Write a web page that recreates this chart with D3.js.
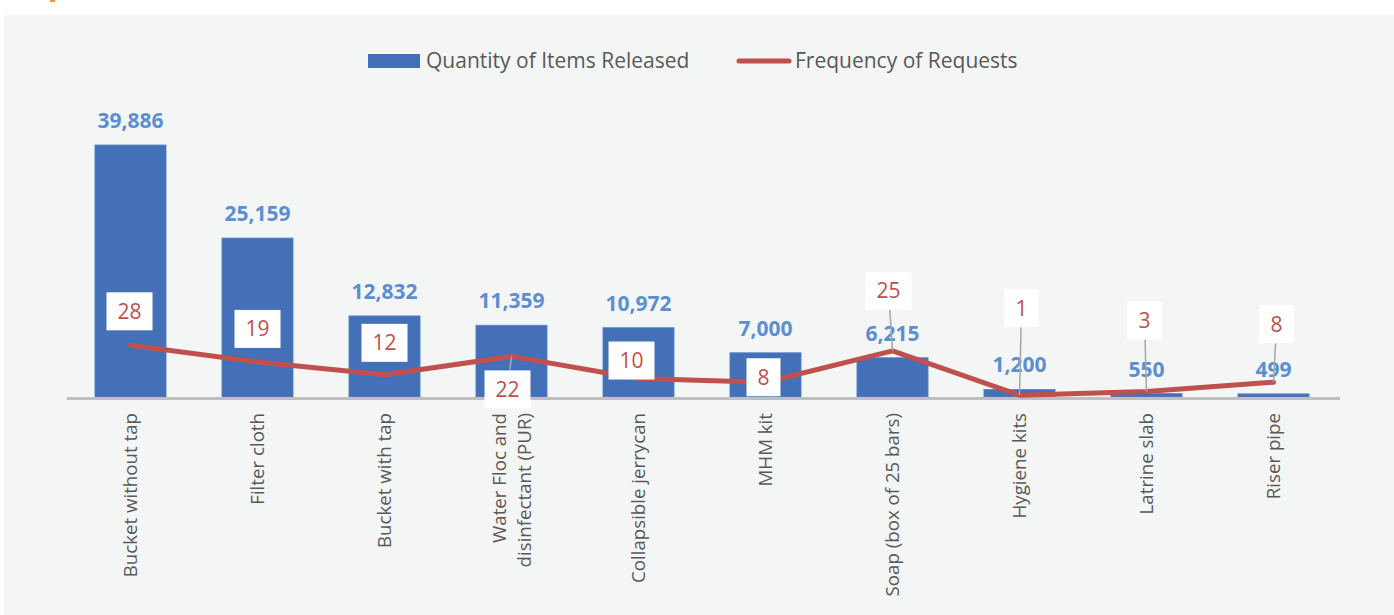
<!DOCTYPE html>
<html>
<head>
<meta charset="utf-8">
<script src="https://cdn.jsdelivr.net/npm/d3@7"></script>
<style>
	body { margin: 0; background: #fff; }
	svg { display: block; }
</style>
</head>
<body>
<svg id="chart" width="1394" height="615"></svg>
<script>

// Data

var categories = ["Bucket without tap", "Filter cloth", "Bucket with tap", "Water Floc and|disinfectant (PUR)",
	"Collapsible jerrycan", "MHM kit", "Soap (box of 25 bars)", "Hygiene kits", "Latrine slab", "Riser pipe"];

var quantities = [39886, 25159, 12832, 11359, 10972, 7000, 6215, 1200, 550, 499];

var frequencies = [28, 19, 12, 22, 10, 8, 25, 1, 3, 8];

var seriesNames = ["Quantity of Items Released", "Frequency of Requests"];

// label box placement relative to each line point (layout only)
var freqLabelOffsets = [[-1, -34], [0, -33], [0, -32], [-4, 33], [-7, -18], [-2, -5], [-4, -60], [2, -87], [-2, -71], [3, -58]];
var freqLeaders = [false, false, false, true, false, false, true, true, true, true];

var BLUE = "#4470b8", LABEL_BLUE = "#5b8fd2", RED = "#c0504d", GREY_TEXT = "#595959";

var svg = d3.select("#chart");

svg.append("rect")
	.attr("x", 50).attr("y", 0)
	.attr("width", 5).attr("height", 2)
	.attr("fill", "#f79646");

svg.append("rect")
	.attr("x", 4).attr("y", 15)
	.attr("width", 1390).attr("height", 600)
	.attr("fill", "#f4f6f5");

var baseline = 397;

var x = d3.scaleBand()
	.domain(d3.range(categories.length))
	.range([67, 1337])
	.paddingInner(0.44)
	.paddingOuter(0.22);

var y = d3.scaleLinear().domain([0, 45000]).range([baseline, 112.7]);
var y2 = d3.scaleLinear().domain([0, 154]).range([baseline, 112.7]);

// Bars

svg.append("g").selectAll("rect")
	.data(quantities)
	.enter().append("rect")
	.attr("x", function (d, i) { return x(i); })
	.attr("y", function (d) { return y(d); })
	.attr("width", x.bandwidth())
	.attr("height", function (d) { return baseline - y(d); })
	.attr("fill", BLUE)
	.attr("stroke", "#5b85c8")
	.attr("stroke-width", 0.8);

// axis line
var axis = svg.append("g")
	.attr("transform", "translate(0," + (baseline + 1.5) + ")")
	.call(d3.axisBottom(x).tickSize(0).tickFormat(""));
axis.select(".domain").attr("stroke", "#bfbfbf").attr("stroke-width", 3).attr("d", "M67,0H1340");

// Bar values

svg.append("g").selectAll("text")
	.data(quantities)
	.enter().append("text")
	.attr("x", function (d, i) { return x(i) + x.bandwidth() / 2; })
	.attr("y", function (d) { return y(d) - 17; })
	.attr("text-anchor", "middle")
	.attr("fill", LABEL_BLUE)
	.style("font-family", "Open Sans")
	.style("font-weight", "bold")
	.style("font-size", "21px")
	.text(function (d) { return d3.format(",")(d); });

// Category labels

var cat = svg.append("g").selectAll("text")
	.data(categories)
	.enter().append("text")
	.attr("transform", function (d, i) {
		var lines = d.split("|").length;
		var cx = x(i) + x.bandwidth() / 2 - (lines - 1) * 12.5;
		return "translate(" + cx + ",413) rotate(-90)";
	})
	.attr("text-anchor", "end")
	.attr("fill", GREY_TEXT)
	.style("font-family", "Open Sans")
	.style("font-size", "18.7px");

cat.each(function (d) {
	var t = d3.select(this);
	d.split("|").forEach(function (line, k) {
		t.append("tspan")
			.attr("x", 0)
			.attr("dy", k == 0 ? "0.35em" : 25)
			.text(line);
	});
});

// Frequency line

var pts = frequencies.map(function (d, i) {
	return [x(i) + x.bandwidth() / 2, y2(d)];
});

svg.append("path")
	.datum(pts)
	.attr("fill", "none")
	.attr("stroke", RED)
	.attr("stroke-width", 5)
	.attr("stroke-linejoin", "round")
	.attr("stroke-linecap", "round")
	.attr("d", d3.line());

// Frequency labels

var fl = svg.append("g").selectAll("g")
	.data(frequencies)
	.enter().append("g")
	.attr("transform", function (d, i) {
		return "translate(" + (pts[i][0] + freqLabelOffsets[i][0]) + "," + (pts[i][1] + freqLabelOffsets[i][1]) + ")";
	});

fl.each(function (d, i) {
	if (!freqLeaders[i]) return;
	var dx = -freqLabelOffsets[i][0], dy = -freqLabelOffsets[i][1];
	var edge = dy > 0 ? 19 : -19;
	d3.select(this).append("line")
		.attr("x1", dx * (edge / dy)).attr("y1", edge)
		.attr("x2", dx).attr("y2", dy)
		.attr("stroke", "#a6a6a6")
		.attr("stroke-width", 1.5);
});

fl.append("rect")
	.attr("x", function (d) { return String(d).length > 1 ? -23 : -17; })
	.attr("y", -19)
	.attr("width", function (d) { return String(d).length > 1 ? 46 : 34; })
	.attr("height", 38)
	.attr("fill", "#fff");

fl.append("text")
	.attr("text-anchor", "middle")
	.attr("dy", "0.36em")
	.attr("fill", RED)
	.style("font-family", "Open Sans")
	.style("font-size", "21px")
	.text(function (d) { return d; });

// Legend

var legend = svg.append("g").style("font-family", "Open Sans").style("font-size", "21px").attr("fill", GREY_TEXT);

legend.append("rect")
	.attr("x", 368).attr("y", 54)
	.attr("width", 52).attr("height", 14)
	.attr("fill", BLUE);

legend.append("text")
	.attr("x", 426).attr("y", 61)
	.attr("dy", "0.35em")
	.text(seriesNames[0]);

legend.append("line")
	.attr("x1", 739).attr("x2", 789)
	.attr("y1", 61).attr("y2", 61)
	.attr("stroke", RED)
	.attr("stroke-width", 5)
	.attr("stroke-linecap", "round");

legend.append("text")
	.attr("x", 795).attr("y", 61)
	.attr("dy", "0.35em")
	.text(seriesNames[1]);

</script>
</body>
</html>
